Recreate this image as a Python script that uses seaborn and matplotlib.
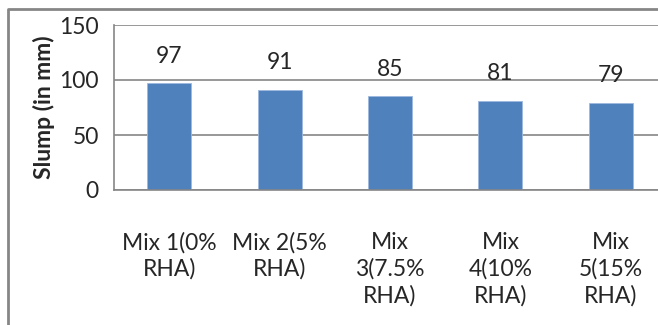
import matplotlib
matplotlib.use("Agg")
import numpy as np
import pandas as pd
import matplotlib.pyplot as plt
import seaborn as sns
from matplotlib.lines import Line2D

mixes = ["Mix 1(0%\nRHA)", "Mix 2(5%\nRHA)", "Mix\n3(7.5%\nRHA)", "Mix\n4(10%\nRHA)", "Mix\n5(15%\nRHA)"]
slump = [97, 91, 85, 81, 79]
yticks = [0, 50, 100, 150]

df = pd.DataFrame({"mix": mixes, "slump": slump})

sns.set_style("white")
plt.rcParams["font.family"] = ["Lato", "DejaVu Sans"]
fs = 16.5

fig = plt.figure(figsize=(6.58, 3.25), dpi=100)
ax = fig.add_axes([114/658, 1 - 190/325, 552/658, 165/325])

sns.barplot(data=df, x="mix", y="slump", color="#4F81BD", width=0.4,
            edgecolor="#9DB9DD", linewidth=0.6, saturation=1, ax=ax)

ax.set_ylim(0, 150)
ax.set_xlim(-0.5, len(mixes) - 0.5)
ax.set_yticks(yticks)
ax.yaxis.grid(True, color="#868686", linewidth=1.2)
ax.set_axisbelow(True)
for s in ["top", "right"]:
    ax.spines[s].set_visible(False)
for s in ["left", "bottom"]:
    ax.spines[s].set_color("#868686")
    ax.spines[s].set_linewidth(1.2)

ax.tick_params(axis="y", length=6, width=1.2, color="#868686", labelsize=fs, pad=5)
ax.tick_params(axis="x", which="major", length=0, labelsize=fs, pad=30)
ax.set_xticks(np.arange(-0.5, len(mixes)), minor=True)
ax.tick_params(axis="x", which="minor", length=6, width=1.2, color="#868686")
for lab in ax.get_xticklabels():
    lab.set_linespacing(1.3)

ax.set_xlabel("")
ax.set_ylabel("Slump (in mm)", fontsize=fs, fontweight="bold", labelpad=3)

for i, v in enumerate(slump):
    ax.annotate(str(v), (i, v), xytext=(0, 12), textcoords="offset points",
                ha="center", va="bottom", fontsize=fs)

# chart area border (left and top only visible)
fig.add_artist(Line2D([8/658, 8/658, 1.0], [0.0, 1 - 9/325, 1 - 9/325],
                      transform=fig.transFigure, color="#868686", linewidth=2))

fig.savefig("out.png", dpi=100)
